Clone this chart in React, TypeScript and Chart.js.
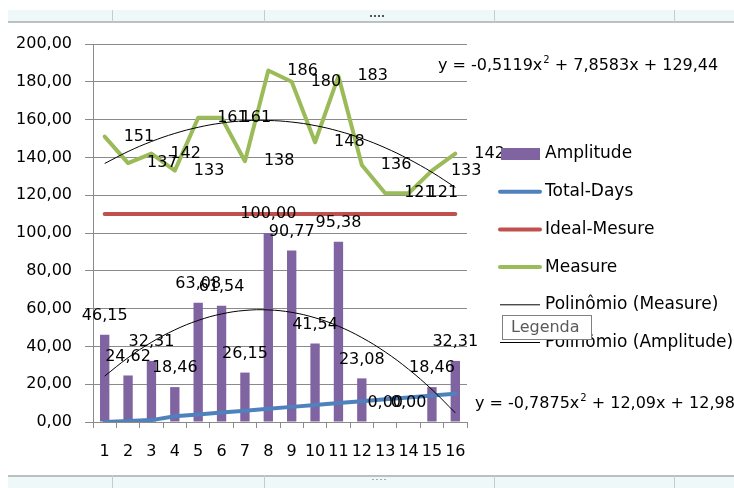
import React, { useEffect, useRef } from "react";
import { Chart, registerables } from "chart.js";

Chart.register(...registerables);

// ---- data ----
const categories = ["1", "2", "3", "4", "5", "6", "7", "8", "9", "10", "11", "12", "13", "14", "15", "16"];
const amplitude = [46.15, 24.62, 32.31, 18.46, 63.08, 61.54, 26.15, 100.0, 90.77, 41.54, 95.38, 23.08, 0.0, 0.0, 18.46, 32.31];
const totalDays = [0, 0.5, 1, 3, 4, 5, 6, 7, 8, 9, 10, 11, 12, 13, 14, 15];
const idealMesure = [110, 110, 110, 110, 110, 110, 110, 110, 110, 110, 110, 110, 110, 110, 110, 110];
const measure = [151, 137, 142, 133, 161, 161, 138, 186, 180, 148, 183, 136, 121, 121, 133, 142];
// second-order polynomial trendlines: [x², x, constant]
const measureTrend = [-0.5119, 7.8583, 129.44];
const amplitudeTrend = [-0.7875, 12.09, 12.989];
const yMin = 0;
const yMax = 200;
const yStep = 20;

const FONT = '"DejaVu Sans", sans-serif';
const COLORS = {
  amplitude: "#8064A2",
  totalDays: "#4F81BD",
  ideal: "#C0504D",
  measure: "#9BBB59",
  trend: "#000000",
  grid: "#8a8a8a",
};

const poly = (c: number[]) => categories.map((_, i) => {
  const x = i + 1;
  return c[0] * x * x + c[1] * x + c[2];
});
const measureFit = poly(measureTrend);
const amplitudeFit = poly(amplitudeTrend);

const comma = (v: number) => String(v).replace(".", ",");
const fixed2 = (v: number) => v.toFixed(2).replace(".", ",");

function drawEquation(ctx: CanvasRenderingContext2D, c: number[], x: number, y: number) {
  ctx.font = `16px ${FONT}`;
  ctx.textAlign = "left";
  ctx.textBaseline = "middle";
  const first = `y = ${comma(c[0])}x`;
  ctx.fillText(first, x, y);
  let cx = x + ctx.measureText(first).width;
  ctx.font = `10px ${FONT}`;
  ctx.fillText("2", cx + 1, y - 6);
  cx += ctx.measureText("2").width + 1;
  ctx.font = `16px ${FONT}`;
  ctx.fillText(` + ${comma(c[1])}x + ${comma(c[2])}`, cx, y);
}

const overlay = {
  id: "overlay",
  afterDatasetsDraw(chart: any) {
    const ctx: CanvasRenderingContext2D = chart.ctx;
    ctx.save();
    ctx.fillStyle = "#000";
    ctx.font = `16px ${FONT}`;

    // bar value labels
    ctx.textAlign = "center";
    ctx.textBaseline = "middle";
    chart.getDatasetMeta(0).data.forEach((el: any, i: number) => {
      ctx.fillText(fixed2(amplitude[i]), el.x, el.y - 19);
    });

    // measure value labels, to the right of each point
    ctx.textAlign = "left";
    chart.getDatasetMeta(3).data.forEach((el: any, i: number) => {
      ctx.fillText(String(measure[i]), el.x + 19, el.y);
    });

    // trendline equations
    drawEquation(ctx, measureTrend, 438, 66);
    drawEquation(ctx, amplitudeTrend, 475, 404);
    ctx.restore();
  },
  afterDraw(chart: any) {
    const ctx: CanvasRenderingContext2D = chart.ctx;
    ctx.save();

    // legend
    const items = [
      { label: "Amplitude", color: COLORS.amplitude, kind: "rect", w: 0 },
      { label: "Total-Days", color: COLORS.totalDays, kind: "line", w: 4 },
      { label: "Ideal-Mesure", color: COLORS.ideal, kind: "line", w: 4 },
      { label: "Measure", color: COLORS.measure, kind: "line", w: 4 },
      { label: "Polinômio (Measure)", color: COLORS.trend, kind: "line", w: 1 },
      { label: "Polinômio (Amplitude)", color: COLORS.trend, kind: "line", w: 1 },
    ];
    ctx.font = `17px ${FONT}`;
    ctx.textAlign = "left";
    ctx.textBaseline = "middle";
    items.forEach((it, i) => {
      const y = 154 + i * 37.7;
      if (it.kind === "rect") {
        ctx.fillStyle = it.color;
        ctx.fillRect(501, y - 6, 39, 12);
      } else {
        ctx.strokeStyle = it.color;
        ctx.lineWidth = it.w;
        ctx.lineCap = it.w > 1 ? "round" : "butt";
        ctx.beginPath();
        ctx.moveTo(500, y);
        ctx.lineTo(540, y);
        ctx.stroke();
      }
      ctx.fillStyle = "#000";
      ctx.fillText(it.label, 545, y);
    });

    // hover hint box
    ctx.fillStyle = "#ffffff";
    ctx.fillRect(502, 315, 90, 25);
    ctx.strokeStyle = "#808080";
    ctx.lineWidth = 1;
    ctx.strokeRect(502.5, 315.5, 89, 24);
    ctx.font = `16px ${FONT}`;
    ctx.fillStyle = "#5a5a5a";
    ctx.fillText("Legenda", 511, 328);

    // window frame strips
    const strip = (top: number, h: number, lineY: number) => {
      ctx.fillStyle = "#eef8f8";
      ctx.fillRect(8, top, 726, h);
      ctx.strokeStyle = "#a8aeae";
      ctx.lineWidth = 1.5;
      ctx.beginPath();
      ctx.moveTo(8, lineY);
      ctx.lineTo(734, lineY);
      ctx.stroke();
      ctx.strokeStyle = "#c4cccc";
      ctx.lineWidth = 1;
      [112, 264, 494, 674].forEach((x) => {
        ctx.beginPath();
        ctx.moveTo(x + 0.5, top);
        ctx.lineTo(x + 0.5, top + h);
        ctx.stroke();
      });
    };
    strip(10, 12, 22);
    strip(475, 13, 476);
    ctx.fillStyle = "#555";
    [370, 374, 378, 382].forEach((x) => ctx.fillRect(x, 15, 2, 2));
    ctx.fillStyle = "#aaa";
    [372, 376, 380, 384].forEach((x) => ctx.fillRect(x, 479, 2, 1));
    ctx.restore();
  },
};

export default function App() {
  const canvasRef = useRef<HTMLCanvasElement | null>(null);

  useEffect(() => {
    if (!canvasRef.current) return;
    const chart = new Chart(canvasRef.current, {
      type: "bar",
      data: {
        labels: categories,
        datasets: [
          {
            type: "bar",
            label: "Amplitude",
            data: amplitude,
            backgroundColor: COLORS.amplitude,
            barPercentage: 0.4,
            categoryPercentage: 1,
            order: 5,
          },
          {
            type: "line",
            label: "Total-Days",
            data: totalDays,
            borderColor: COLORS.totalDays,
            borderWidth: 4,
            pointRadius: 0,
            borderCapStyle: "round",
            borderJoinStyle: "round",
            order: 4,
          },
          {
            type: "line",
            label: "Ideal-Mesure",
            data: idealMesure,
            borderColor: COLORS.ideal,
            borderWidth: 4,
            pointRadius: 0,
            borderCapStyle: "round",
            order: 3,
          },
          {
            type: "line",
            label: "Measure",
            data: measure,
            borderColor: COLORS.measure,
            borderWidth: 4,
            pointRadius: 0,
            borderCapStyle: "round",
            borderJoinStyle: "round",
            order: 2,
          },
          {
            type: "line",
            label: "Polinômio (Measure)",
            data: measureFit,
            borderColor: COLORS.trend,
            borderWidth: 1,
            pointRadius: 0,
            tension: 0.4,
            order: 1,
          },
          {
            type: "line",
            label: "Polinômio (Amplitude)",
            data: amplitudeFit,
            borderColor: COLORS.trend,
            borderWidth: 1,
            pointRadius: 0,
            tension: 0.4,
            order: 0,
          },
        ],
      } as any,
      options: {
        responsive: false,
        animation: false,
        devicePixelRatio: 1,
        layout: { padding: { top: 44, right: 267, left: 0, bottom: 0 } },
        plugins: {
          legend: { display: false },
          tooltip: { enabled: false },
        },
        scales: {
          x: {
            type: "category",
            offset: true,
            grid: {
              offset: true,
              drawOnChartArea: false,
              drawTicks: true,
              tickLength: 6,
              color: COLORS.grid,
            },
            border: { color: COLORS.grid, width: 1 },
            ticks: {
              color: "#000",
              font: { family: FONT, size: 16 },
              padding: 14,
              maxRotation: 0,
              autoSkip: false,
            },
            afterFit: (s: any) => {
              s.height = 66;
            },
          },
          y: {
            min: yMin,
            max: yMax,
            grid: { color: COLORS.grid, tickLength: 8 },
            border: { color: COLORS.grid, width: 1 },
            ticks: {
              stepSize: yStep,
              color: "#000",
              font: { family: FONT, size: 16 },
              padding: 13,
              callback: (v: any) => fixed2(Number(v)),
            },
            afterFit: (s: any) => {
              s.width = 93;
            },
          },
        },
      } as any,
      plugins: [overlay],
    });
    return () => chart.destroy();
  }, []);

  return (
    <div style={{ position: "fixed", left: 0, top: 0, width: 734, height: 488, background: "#fff" }}>
      <canvas ref={canvasRef} width={734} height={488} />
    </div>
  );
}
